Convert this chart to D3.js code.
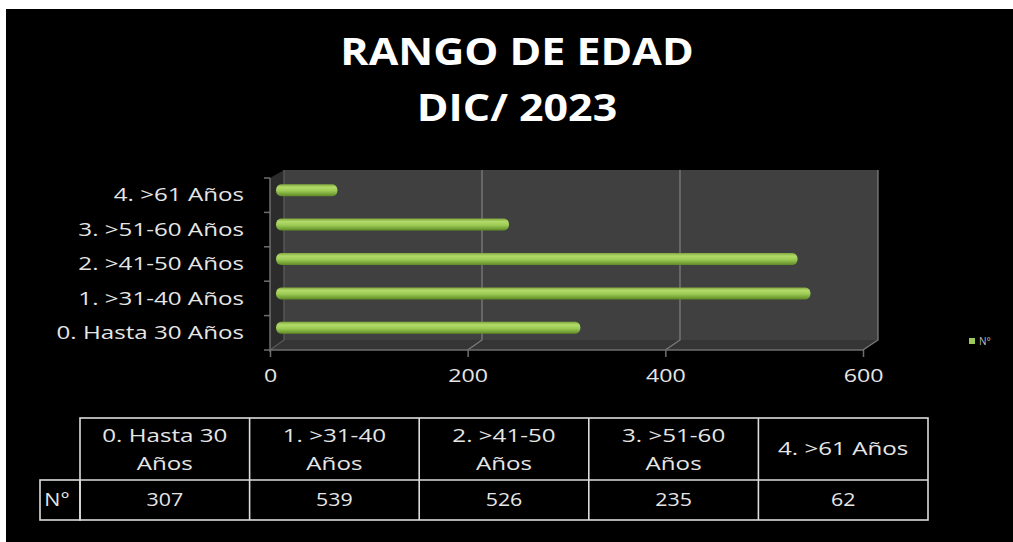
<!DOCTYPE html>
<html><head><meta charset="utf-8">
<script src="https://cdn.jsdelivr.net/npm/d3@7"></script>
<style>
html,body{margin:0;padding:0;background:#fff;}
svg{display:block;}
text{font-family:"Open Sans",sans-serif;}
</style></head>
<body>
<svg id="c" width="1013" height="542"></svg>
<script>
const categories = ["0. Hasta 30 Años","1. >31-40 Años","2. >41-50 Años","3. >51-60 Años","4. >61 Años"];
const headerLines = [["0. Hasta 30","Años"],["1. >31-40","Años"],["2. >41-50","Años"],["3. >51-60","Años"],["4. >61 Años"]];
const values = [307,539,526,235,62];
const seriesName = "N°";
const xTicks = [0,200,400,600];
const titleLines = ["RANGO DE EDAD","DIC/ 2023"];

const svg = d3.select("#c");
const W = 1013, H = 542;
const STR = 1.22, STRL = 1.38;
function stretch(sel,k){ sel.each(function(){ const l=this.getComputedTextLength(); d3.select(this).attr("textLength",l*k).attr("lengthAdjust","spacingAndGlyphs"); }); }

// background
svg.append("rect").attr("x",0).attr("y",0).attr("width",W).attr("height",H).attr("fill","#fff");
svg.append("rect").attr("x",6).attr("y",9).attr("width",W-6).attr("height",H-9).attr("fill","#000");

// defs
const defs = svg.append("defs");
const g1 = defs.append("linearGradient").attr("id","barG").attr("x1",0).attr("y1",0).attr("x2",0).attr("y2",1);
g1.append("stop").attr("offset","0%").attr("stop-color","#7fa83a");
g1.append("stop").attr("offset","25%").attr("stop-color","#b3da6a");
g1.append("stop").attr("offset","55%").attr("stop-color","#9ccb55");
g1.append("stop").attr("offset","100%").attr("stop-color","#5f8a25");

// title
svg.append("g").selectAll("text").data(titleLines).join("text")
  .attr("x",517).attr("y",(d,i)=>52+i*56).attr("dy","0.35em")
  .attr("text-anchor","middle").attr("fill","#fff")
  .attr("font-weight","bold").attr("font-size",37).text(d=>d)
  .call(stretch,1.16);

// scales
const xBack = d3.scaleLinear().domain([0,600]).range([284,878]);
const xFront = d3.scaleLinear().domain([0,600]).range([270,863]);
const xBar = d3.scaleLinear().domain([0,600]).range([276,871]);
const yBand = d3.scaleBand().domain(categories).range([350,178]);
const backTop = 170, backBot = 340, frontY = 350;
const dyD = frontY-backBot;

// walls
const plot = svg.append("g");
plot.append("path").attr("d",`M${xFront(0)},178L${xBack(0)},${backTop}L${xBack(0)},${backBot}L${xFront(0)},${frontY}Z`).attr("fill","#2c2c2c");
plot.append("rect").attr("x",xBack(0)).attr("y",backTop).attr("width",xBack(600)-xBack(0)).attr("height",backBot-backTop).attr("fill","#404040");
plot.append("path").attr("d",`M${xBack(0)},${backBot}L${xBack(600)},${backBot}L${xFront(600)},${frontY}L${xFront(0)},${frontY}Z`).attr("fill","#353535");
xTicks.forEach(v=>{
  plot.append("path").attr("d",`M${xBack(v)},${backTop}L${xBack(v)},${backBot}L${xFront(v)},${frontY}`)
    .attr("fill","none").attr("stroke", v===0?"#5a5a5a":"#7c7c7c").attr("stroke-width",1.3);
});

// bars
const bh = 12;
plot.selectAll("rect.bar").data(values).join("rect").attr("class","bar")
  .attr("x",xBar(0)).attr("width",d=>xBar(d)-xBar(0))
  .attr("y",(d,i)=>yBand(categories[i])+yBand.bandwidth()/2-dyD/2-bh/2)
  .attr("height",bh).attr("rx",5).attr("ry",6)
  .attr("fill","url(#barG)");

// left axis
const ax = svg.append("g");
ax.append("line").attr("x1",xFront(0)).attr("x2",xFront(0)).attr("y1",178).attr("y2",frontY+2).attr("stroke","#6e6e6e").attr("stroke-width",1.5);
const bounds = categories.map(c=>yBand(c)).concat([yBand(categories[0])+yBand.bandwidth()]);
ax.selectAll("line.bt").data(bounds).join("line").attr("class","bt")
  .attr("x1",xFront(0)-6).attr("x2",xFront(0)).attr("y1",d=>d).attr("y2",d=>d)
  .attr("stroke","#6e6e6e").attr("stroke-width",1.5);
const yAxis = d3.axisLeft(yBand).tickSize(0).tickPadding(26);
const ya = svg.append("g").attr("transform",`translate(${xFront(0)},0)`).call(yAxis);
ya.select(".domain").remove();
ya.selectAll("text").attr("fill","#e6e6e6").attr("font-size",17.5).attr("font-family","Open Sans, sans-serif").attr("dy","0.35em")
  .call(stretch,STRL);

// front axis
svg.append("line").attr("x1",xFront(0)).attr("x2",xFront(600)).attr("y1",frontY).attr("y2",frontY).attr("stroke","#6e6e6e").attr("stroke-width",1.5);
const xAxis = d3.axisBottom(xFront).tickValues(xTicks).tickSize(7).tickPadding(12);
const xa = svg.append("g").attr("transform",`translate(0,${frontY})`).call(xAxis);
xa.select(".domain").remove();
xa.selectAll(".tick line").attr("stroke","#6e6e6e").attr("stroke-width",1.5);
xa.selectAll("text").attr("fill","#e6e6e6").attr("font-size",19).attr("font-family","Open Sans, sans-serif").call(stretch,STR);

// legend
svg.append("rect").attr("x",969).attr("y",338).attr("width",6).attr("height",6).attr("fill","#9ccb55");
svg.append("text").attr("x",979).attr("y",341).attr("dy","0.35em").attr("fill","#bdbdbd").attr("font-size",10).text(seriesName);

// data table
const tx = d3.scaleBand().domain(categories).range([80,928]);
const tTop = 418, tMid = 480, tBot = 520, nLeft = 40;
const tb = svg.append("g");
const stroke = "#dcdcdc", sw = 1.6;
tb.append("rect").attr("x",80).attr("y",tTop).attr("width",848).attr("height",tBot-tTop).attr("fill","none").attr("stroke",stroke).attr("stroke-width",sw);
tb.append("rect").attr("x",nLeft).attr("y",tMid).attr("width",80-nLeft).attr("height",tBot-tMid).attr("fill","none").attr("stroke",stroke).attr("stroke-width",sw);
tb.append("line").attr("x1",80).attr("x2",928).attr("y1",tMid).attr("y2",tMid).attr("stroke",stroke).attr("stroke-width",sw);
tb.selectAll("line.vc").data(categories.slice(1)).join("line").attr("class","vc")
  .attr("x1",d=>tx(d)).attr("x2",d=>tx(d)).attr("y1",tTop).attr("y2",tBot).attr("stroke",stroke).attr("stroke-width",sw);
categories.forEach((c,i)=>{
  const lines = headerLines[i];
  const cy = (tTop+tMid)/2 + (lines.length>1?1:0);
  tb.selectAll(null).data(lines).join("text")
    .attr("x",tx(c)+tx.bandwidth()/2)
    .attr("y",(d,j)=>cy+(j-(lines.length-1)/2)*28).attr("dy","0.35em")
    .attr("text-anchor","middle").attr("fill","#e6e6e6").attr("font-size",17.5).text(d=>d)
    .call(stretch,STRL);
});
tb.selectAll("text.val").data(values).join("text").attr("class","val")
  .attr("x",(d,i)=>tx(categories[i])+tx.bandwidth()/2).attr("y",(tMid+tBot)/2).attr("dy","0.35em")
  .attr("text-anchor","middle").attr("fill","#e6e6e6").attr("font-size",17.5).text(d=>d)
  .call(stretch,STR);
tb.append("text").attr("x",(nLeft+80)/2-3).attr("y",(tMid+tBot)/2).attr("dy","0.35em")
  .attr("text-anchor","middle").attr("fill","#e6e6e6").attr("font-size",17.5).text(seriesName).call(stretch,STR);
</script>
</body></html>
